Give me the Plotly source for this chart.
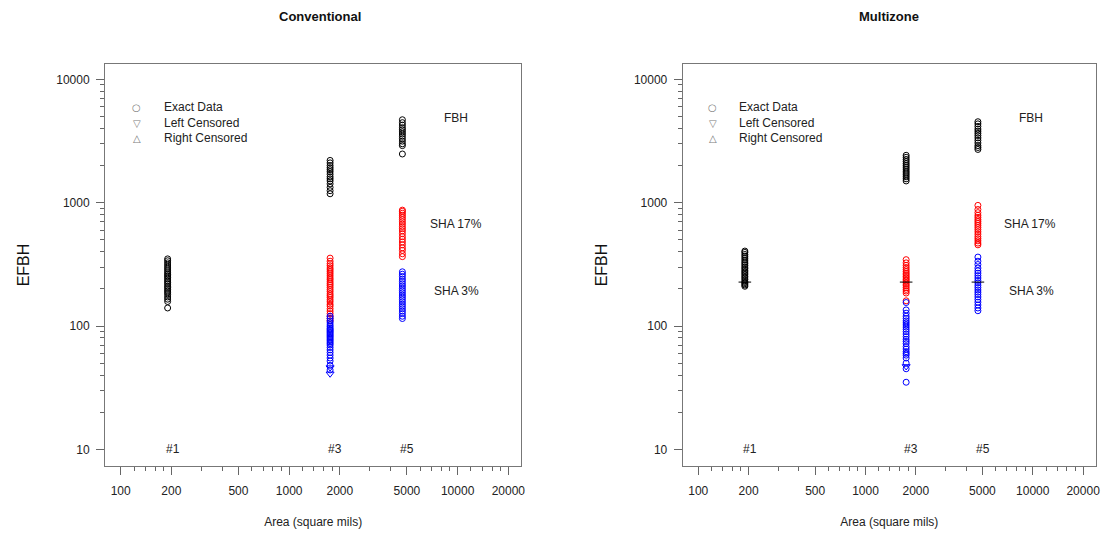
import math
import plotly.graph_objects as go

# ---------------- data ----------------
area_labels = ["#1", "#3", "#5"]
areas = [190, 1750, 4700]

x_tickvals = [100, 200, 500, 1000, 2000, 5000, 10000, 20000]
x_minor = [120, 140, 160, 180, 300, 400, 600, 700, 800, 900,
           1200, 1400, 1600, 1800, 3000, 4000, 6000, 7000, 8000, 9000,
           12000, 14000, 16000, 18000]
y_tickvals = [10, 100, 1000, 10000]
y_minor = [20, 30, 40, 50, 60, 70, 80, 90, 200, 300, 400, 500, 600, 700, 800, 900,
           2000, 3000, 4000, 5000, 6000, 7000, 8000, 9000]

legend_items = ["Exact Data", "Left Censored", "Right Censored"]
legend_symbols = ["○", "▽", "△"]

# Conventional
conv_fbh_1 = [140, 158, 165, 172, 180, 186, 192, 198, 205, 210, 218, 225, 232, 240,
              248, 255, 262, 270, 280, 290, 300, 312, 325, 338, 350]
conv_fbh_3 = [1180, 1250, 1330, 1420, 1500, 1560, 1620, 1700, 1780, 1850, 1920, 2000, 2100, 2200]
conv_fbh_5 = [2480, 2900, 3000, 3150, 3300, 3450, 3600, 3750, 3900, 4050, 4250, 4450, 4700]
conv_sha17_3 = [110, 115, 120, 126, 132, 138, 145, 150, 157, 163, 170, 176, 182, 190, 197,
                205, 213, 220, 228, 237, 245, 255, 265, 275, 285, 295, 308, 320, 335, 355]
conv_sha17_5 = [365, 385, 410, 430, 455, 480, 505, 530, 560, 590, 615, 640, 670, 700,
                730, 760, 790, 820, 850, 870]
conv_sha3_3 = [44, 48, 52, 55, 58, 61, 64, 67, 70, 72, 74, 76, 78, 80, 82, 84, 86, 88,
               90, 92, 94, 96, 99, 102, 106, 110, 115, 120]
conv_sha3_3_left = [41, 46]
conv_sha3_5 = [115, 120, 126, 132, 138, 144, 150, 157, 164, 171, 178, 186, 194, 202,
               211, 220, 230, 240, 252, 263, 275]

# Multizone
mz_fbh_1 = [210, 215, 220, 225, 230, 238, 245, 252, 260, 268, 275, 283, 292, 300, 310,
            320, 330, 342, 355, 368, 380, 395, 405]
mz_fbh_3 = [1500, 1560, 1620, 1680, 1740, 1800, 1870, 1940, 2010, 2080, 2160, 2240, 2330, 2420]
mz_fbh_5 = [2700, 2800, 2900, 3050, 3200, 3350, 3500, 3650, 3800, 3950, 4150, 4350, 4530]
mz_sha17_3 = [160, 185, 192, 198, 205, 212, 218, 225, 232, 238, 245, 252, 260, 268, 277,
              287, 298, 310, 325, 345]
mz_sha17_5 = [455, 470, 490, 510, 530, 555, 580, 605, 630, 655, 680, 705, 730, 760, 790,
              830, 880, 950]
mz_sha3_3 = [35, 45, 50, 55, 58, 60, 62, 65, 68, 72, 75, 78, 82, 86, 90, 94, 98, 102,
             106, 110, 115, 120, 127, 135, 155]
mz_sha3_3_left = [47]
mz_sha3_5 = [133, 140, 148, 156, 164, 172, 180, 188, 196, 205, 214, 224, 234, 245, 256,
             268, 280, 295, 315, 335, 362]
mz_median = [227, 227, 227]

panels = {
    "Conventional": {
        "black": [conv_fbh_1, conv_fbh_3, conv_fbh_5],
        "red": [[], conv_sha17_3, conv_sha17_5],
        "blue": [[], conv_sha3_3, conv_sha3_5],
        "left": [[], conv_sha3_3_left, []],
    },
    "Multizone": {
        "black": [mz_fbh_1, mz_fbh_3, mz_fbh_5],
        "red": [[], mz_sha17_3, mz_sha17_5],
        "blue": [[], mz_sha3_3, mz_sha3_5],
        "left": [[], mz_sha3_3_left, []],
    },
}

FONT = "Liberation Sans, Arial, sans-serif"
colors = {"black": "#000000", "red": "#FF0000", "blue": "#0000FF"}

fig = go.Figure()
axis_ids = [("x", "y"), ("x2", "y2")]

for (name, pdata), (xa, ya) in zip(panels.items(), axis_ids):
    for key in ["red", "blue", "black"]:
        for a, vals in zip(areas, pdata[key]):
            if not vals:
                continue
            fig.add_trace(go.Scatter(
                x=[a] * len(vals), y=vals, mode="markers", xaxis=xa, yaxis=ya,
                showlegend=False, hoverinfo="x+y",
                marker=dict(symbol="circle-open", size=6, color=colors[key],
                            line=dict(width=1, color=colors[key]))))
    for a, vals in zip(areas, pdata["left"]):
        if not vals:
            continue
        fig.add_trace(go.Scatter(
            x=[a] * len(vals), y=vals, mode="markers", xaxis=xa, yaxis=ya,
            showlegend=False,
            marker=dict(symbol="triangle-down-open", size=7, color="#0000FF",
                        line=dict(width=1, color="#0000FF"))))
    if name == "Multizone":
        fig.add_trace(go.Scatter(
            x=areas, y=mz_median, mode="markers", xaxis=xa, yaxis=ya, showlegend=False,
            marker=dict(symbol="line-ew-open", size=9, color="#000000",
                        line=dict(width=1, color="#000000"))))

# Figure fills the whole window (page body margin removed by post_script).
W, H = 1104, 533
L, T = 105, 64
R = W - 1100
B = H - 466
pw = W - L - R
ph = H - T - B


def px2paper_x(px):
    return (px - L) / pw


def px2paper_y(py):
    return (H - B - py) / ph


xdom1 = [0, px2paper_x(523)]
xdom2 = [px2paper_x(685), 1]

tickfont = dict(family=FONT, size=12, color="#222222")


def xaxis(domain, anchor):
    return dict(
        type="log", domain=domain, anchor=anchor, range=[1.907, 4.378],
        tickmode="array", tickvals=x_tickvals, ticktext=[str(v) for v in x_tickvals],
        ticks="outside", ticklen=8, tickcolor="#666666", tickwidth=1,
        minor=dict(tickmode="array", tickvals=x_minor, ticks="outside", ticklen=4,
                   tickcolor="#666666", tickwidth=1, showgrid=False),
        showline=True, linecolor="#777777", linewidth=1, mirror=True,
        showgrid=False, zeroline=False, tickfont=tickfont, ticklabelstandoff=6,
        title=dict(text="Area (square mils)", font=dict(family=FONT, size=12, color="#222222"),
                   standoff=20),
    )


def yaxis(anchor):
    return dict(
        type="log", domain=[0, 1], anchor=anchor, range=[0.865, 4.124],
        tickmode="array", tickvals=y_tickvals, ticktext=[str(v) for v in y_tickvals],
        ticks="outside", ticklen=8, tickcolor="#666666", tickwidth=1,
        minor=dict(tickmode="array", tickvals=y_minor, ticks="outside", ticklen=4,
                   tickcolor="#666666", tickwidth=1, showgrid=False),
        showline=True, linecolor="#777777", linewidth=1, mirror=True,
        showgrid=False, zeroline=False, tickfont=tickfont, ticklabelstandoff=4,
        title=dict(text="EFBH", font=dict(family=FONT, size=16, color="#111111"),
                   standoff=22),
    )


annotations = []
for xr, yr in [("x", "y"), ("x2", "y2")]:
    for a, lab in zip(areas, area_labels):
        annotations.append(dict(x=math.log10(a), y=1, xref=xr, yref=yr,
                                text=lab, showarrow=False, xshift=5,
                                xanchor="center", yanchor="middle",
                                font=dict(family=FONT, size=12, color="#222222")))

panel_notes = [
    ([("FBH", 352, 118), ("SHA 17%", 352, 224), ("SHA 3%", 353, 291)], 105),
    ([("FBH", 350, 118), ("SHA 17%", 349, 224), ("SHA 3%", 350, 291)], 685),
]
for notes, x0 in panel_notes:
    for txt, dx, py in notes:
        annotations.append(dict(
            x=px2paper_x(x0 + dx), y=px2paper_y(py), xref="paper", yref="paper",
            text=txt, showarrow=False, xanchor="center", yanchor="middle",
            font=dict(family=FONT, size=12, color="#222222")))

# legends (one per panel)
for x0 in [105, 685]:
    sym_x = x0 + 32 if x0 == 105 else x0 + 30
    txt_x = x0 + 57 if x0 == 105 else x0 + 55
    for lab, sym, py in zip(legend_items, legend_symbols, [107, 123, 138]):
        annotations.append(dict(
            x=px2paper_x(sym_x), y=px2paper_y(py), xref="paper", yref="paper",
            text=sym, showarrow=False, xanchor="center", yanchor="middle",
            font=dict(family="DejaVu Sans", size=10, color="#7a7a7a")))
        annotations.append(dict(
            x=px2paper_x(txt_x), y=px2paper_y(py), xref="paper", yref="paper",
            text=lab, showarrow=False, xanchor="left", yanchor="middle",
            font=dict(family=FONT, size=12, color="#222222")))

annotations.append(dict(x=px2paper_x(321), y=px2paper_y(17), xref="paper", yref="paper",
                        text="<b>Conventional</b>", showarrow=False,
                        xanchor="center", yanchor="middle",
                        font=dict(family=FONT, size=13, color="#111111")))
annotations.append(dict(x=px2paper_x(892), y=px2paper_y(16), xref="paper", yref="paper",
                        text="<b>Multizone</b>", showarrow=False,
                        xanchor="center", yanchor="middle",
                        font=dict(family=FONT, size=13, color="#111111")))

fig.update_layout(
    width=W, height=H, margin=dict(l=L, r=R, t=T, b=B),
    paper_bgcolor="white", plot_bgcolor="white",
    font=dict(family=FONT, size=12, color="#222222"),
    xaxis=xaxis(xdom1, "y"), yaxis=yaxis("x"),
    xaxis2=xaxis(xdom2, "y2"), yaxis2=yaxis("x2"),
    annotations=annotations,
    showlegend=False,
)

fig.write_html(
    "out.html",
    config={"displayModeBar": False},
    post_script="document.body.style.margin='0px';document.body.style.overflow='hidden';",
)
